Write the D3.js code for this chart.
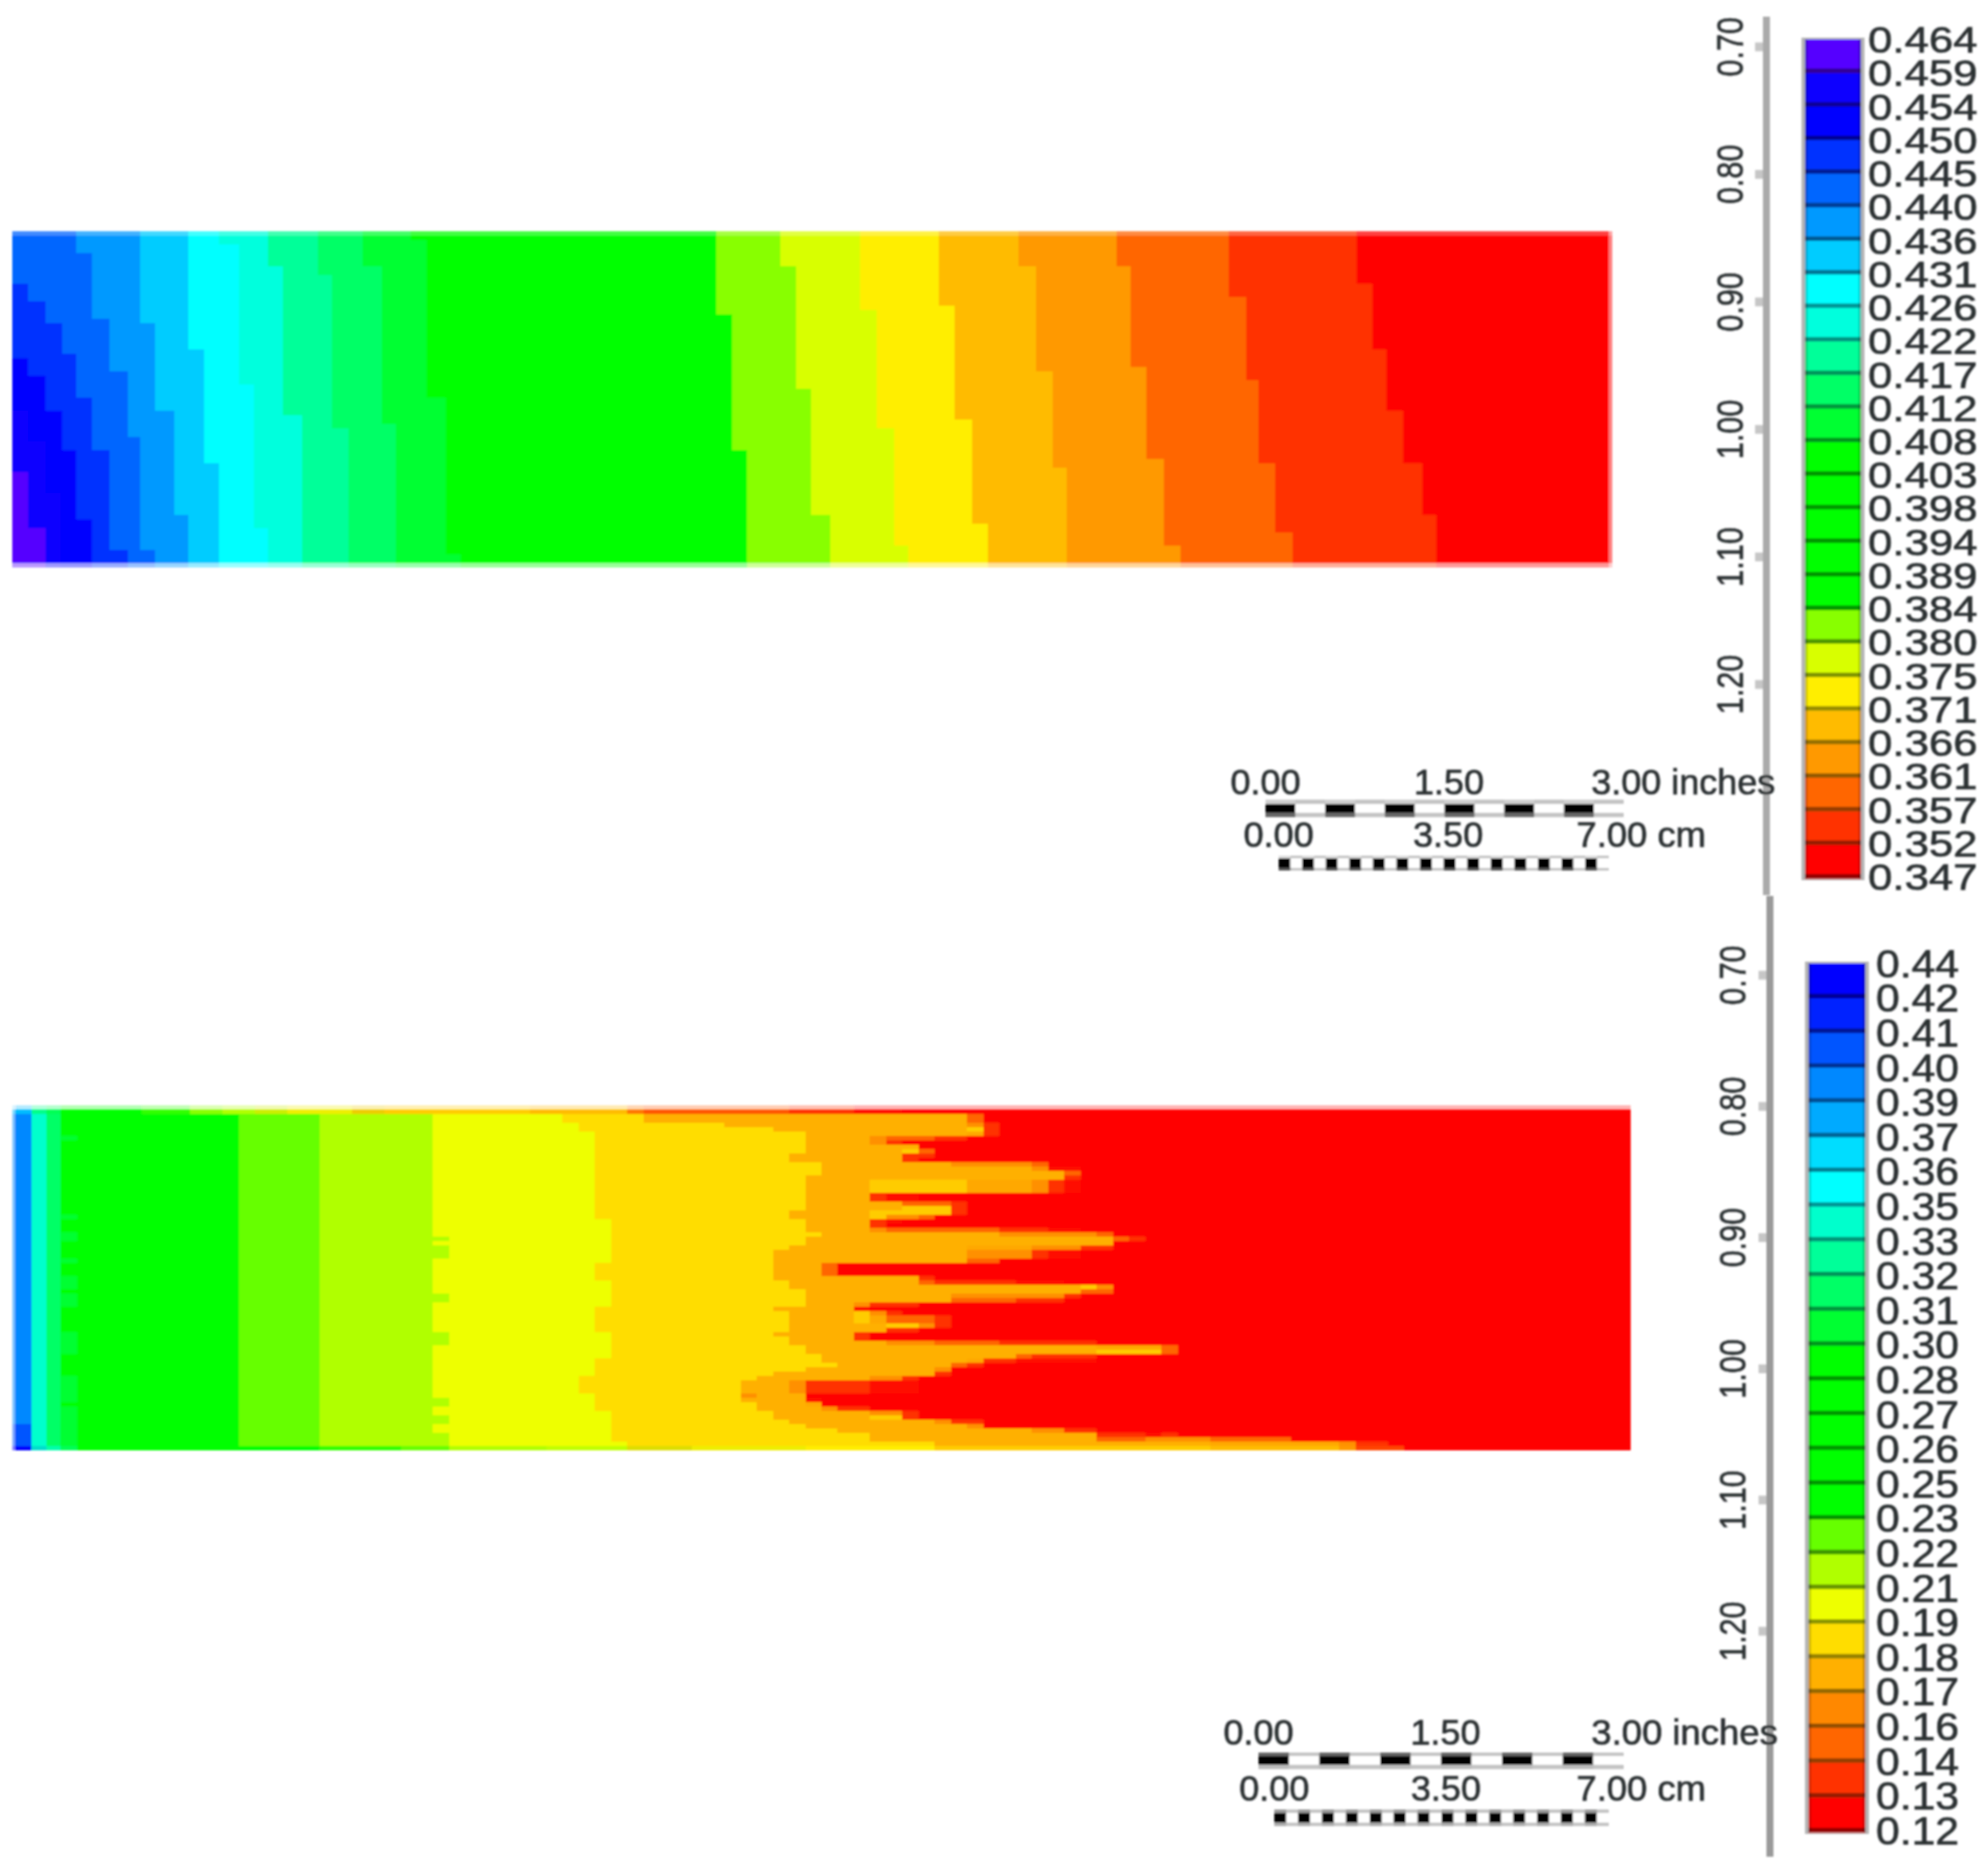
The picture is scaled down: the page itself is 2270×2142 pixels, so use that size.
<!DOCTYPE html>
<html><head><meta charset="utf-8">
<script src="https://cdn.jsdelivr.net/npm/d3@7/dist/d3.min.js"></script>
<style>html,body{margin:0;background:#fff}svg{display:block}text{font-family:"Liberation Sans",Arial,sans-serif;fill:#2c3033;stroke:#2c3033;stroke-width:0.7px}</style>
</head><body><svg id="c" width="2270" height="2142"></svg>
<script>
// ---------- legends ----------
const legendLabelsA=["0.464","0.459","0.454","0.450","0.445","0.440","0.436","0.431","0.426","0.422","0.417","0.412","0.408","0.403","0.398","0.394","0.389","0.384","0.380","0.375","0.371","0.366","0.361","0.357","0.352","0.347"];
const legendColorsA=["#5500ff","#1100ff","#0000ff","#0033ff","#0066ff","#0099ff","#00ccff","#00ffff","#00ffdd","#00ff99","#00ff66","#00ff33","#00ff00","#00ff00","#00ff00","#00ff00","#00ff00","#88ff00","#d8ff00","#ffee00","#ffbb00","#ff9900","#ff6600","#ff3300","#ff0000"];
const legendLabelsB=["0.44","0.42","0.41","0.40","0.39","0.37","0.36","0.35","0.33","0.32","0.31","0.30","0.28","0.27","0.26","0.25","0.23","0.22","0.21","0.19","0.18","0.17","0.16","0.14","0.13","0.12"];
const legendColorsB=["#0000ff","#0022ff","#0055ff","#0088ff","#00aaff","#00ddff","#00ffff","#00ffcc","#00ff99","#00ff66","#00ff33","#00ff00","#00ff00","#00ff00","#00ff00","#00ff00","#66ff00","#b0ff00","#eeff00","#ffdd00","#ffb000","#ff8800","#ff6600","#ff3300","#ff0000"];
const depthTicks=[0.7,0.8,0.9,1.0,1.1,1.2];
const inchTicks=[0,1.5,3];
const cmTicks=[0,3.5,7];

// ---------- upper field: contour edges as [first model row, % of sample length] ----------
const edgeA00=[[0,0],[55,1.0],[68,2.1]];
const edgeA01=[[0,0],[41,1.0],[48,2.1],[60,3.0]];
const edgeA02=[[0,0],[29,1.0],[33,2.1],[41,3.1],[50,4.0],[66,5.0]];
const edgeA03=[[0,0],[12,1.0],[16,2.1],[21,3.1],[28,4.0],[38,5.0],[50,6.1],[73,7.2]];
const edgeA04=[[0,4.0],[5,5.0],[20,6.1],[32,7.2],[47,8.0],[73,8.9]];
const edgeA05=[[0,8.0],[21,8.9],[41,10.1],[65,11.0]];
const edgeA06=[[0,11.0],[27,12.0],[53,12.9]];
const edgeA07=[[0,12.9],[3,14.2],[35,15.1],[68,16.0]];
const edgeA08=[[0,16.0],[8,16.9],[42,18.1]];
const edgeA09=[[0,19.1],[10,20.0],[45,21.0]];
const edgeA10=[[0,21.9],[8,23.1],[44,24.0]];
const edgeA11=[[0,24.9],[2,25.9],[38,27.1],[74,28.0]];
const edgeA12=[[0,44.0],[19,45.0],[50,45.9]];
const edgeA13=[[0,48.0],[8,49.0],[36,49.9],[65,51.1]];
const edgeA14=[[0,53.0],[18,54.0],[45,55.1],[72,56.0]];
const edgeA15=[[0,57.9],[17,58.9],[43,60.0],[67,61.0]];
const edgeA16=[[0,62.9],[8,64.0],[32,65.0],[54,65.9]];
const edgeA17=[[0,69.0],[8,69.9],[31,70.9],[52,72.0],[72,73.0]];
const edgeA18=[[0,76.0],[15,77.1],[34,77.9],[53,78.9],[69,80.0]];
const edgeA19=[[0,84.0],[12,85.0],[27,85.9],[41,86.9],[53,88.1],[65,89.0]];
const edgesA=[edgeA00,edgeA01,edgeA02,edgeA03,edgeA04,edgeA05,edgeA06,edgeA07,edgeA08,edgeA09,edgeA10,edgeA11,edgeA12,edgeA13,edgeA14,edgeA15,edgeA16,edgeA17,edgeA18,edgeA19];
const edgeLevelsA=[0,1,2,3,4,5,6,7,8,9,10,11,12,17,18,19,20,21,22,23];

// ---------- lower field: band limits in % of sample length, per model row ----------
const straightEdgesB=[1.2,2.1,3,14,19,26];
const straightLevelsB=[3,7,9,11,16,17];
const goldEdgeB=[[2,34],[4,35],[6,36],[26,37],[36,36],[40,37],[46,36],[52,37],[58,36],[62,35],[66,36],[70,37],[77,38]];
const amberStartB=[0,0,39,39,44,47,49,49,49,49,49,48,48,50,50,50,49,49,49,49,49,49,49,49,48,48,49,49,49,50,49,49,48,47,47,47,47,47,47,47,48,48,49,49,49,49,47,48,48,48,48,48,47,48,48,49,49,50,50,51,49,47,46,45,45,45,45,45,46,46,47,47,48,49,51,53,53,57];
const redStartB=[0,0,60,60,61,61,61,59,55,56,57,57,56,64,66,66,66,66,66,66,56,56,59,59,59,57,55,54,66,68,70,68,68,66,66,61,51,51,51,57,65,68,68,66,65,56,53,55,58,58,58,56,53,53,67,72,72,67,67,60,58,58,56,56,56,56,49,50,50,53,56,56,60,60,67,72,79,85];
const fringeTones=["#ffcc00","#ffa800","#ff9000","#ff6600","#ff3300","#ff1100"];
// [first row, last row, from %, to %, tone]
const fringesB=[[2,3,59,60,3],[4,4,59,60,2],[4,6,60,61,4],[5,5,59,60,0],[6,6,59,60,1],[7,7,53,54,2],[7,7,54,57,3],[7,7,57,59,4],[8,8,53,54,2],[8,8,54,55,4],[10,10,55,56,0],[10,10,56,57,3],[11,11,55,57,4],[12,12,55,56,4],[13,13,58,63,2],[13,13,63,64,3],[14,14,63,64,2],[14,14,64,66,5],[15,15,65,66,3],[16,16,65,66,4],[17,19,53,59,0],[17,19,59,63,1],[17,19,63,64,2],[17,19,64,65,4],[17,19,65,66,5],[20,21,53,54,4],[20,21,54,56,5],[22,22,55,58,3],[22,22,58,59,4],[23,23,55,58,0],[23,24,58,59,4],[24,24,53,58,0],[25,25,53,54,0],[25,25,54,56,2],[25,25,56,57,3],[26,26,53,54,4],[26,26,54,55,5],[27,27,53,54,4],[28,28,53,54,2],[28,28,54,61,3],[28,28,61,64,4],[28,28,64,66,5],[29,29,61,67,2],[29,29,67,68,3],[30,30,68,69,3],[30,30,69,70,4],[32,32,59,63,1],[32,32,63,66,2],[32,32,66,68,4],[33,34,59,63,2],[33,34,63,64,4],[33,34,64,66,5],[35,35,59,61,3],[36,38,50,51,3],[39,39,56,57,4],[40,40,56,57,3],[40,40,57,62,4],[40,40,62,65,5],[41,41,66,67,0],[41,41,67,68,2],[42,42,66,68,3],[43,43,58,65,2],[43,43,65,66,4],[44,44,58,62,3],[44,44,62,65,4],[45,45,52,53,2],[45,45,53,56,4],[46,46,52,53,5],[47,47,52,53,0],[47,47,53,54,2],[47,47,54,55,4],[48,49,52,53,0],[48,49,53,54,1],[48,49,54,57,3],[48,49,57,58,4],[50,50,54,56,0],[50,50,56,57,2],[50,50,57,58,4],[51,51,54,56,4],[52,53,52,53,4],[54,54,54,57,2],[54,54,57,61,3],[54,54,61,67,4],[55,55,67,71,1],[55,56,71,72,3],[56,56,67,71,0],[57,57,62,63,3],[57,57,63,67,4],[58,58,59,60,1],[58,58,60,62,4],[58,58,62,67,5],[59,59,58,59,3],[59,59,59,60,4],[60,60,57,58,2],[61,61,57,58,4],[62,62,53,55,2],[62,62,55,56,4],[63,65,48,49,2],[63,65,49,53,4],[63,65,53,56,5],[66,66,45,46,2],[67,67,49,50,5],[68,68,49,50,1],[69,69,50,51,2],[69,69,51,53,4],[70,70,53,55,2],[70,70,55,56,4],[71,71,53,55,0],[71,71,55,56,4],[72,72,57,58,2],[72,72,58,60,4],[73,73,59,60,2],[74,74,63,65,2],[74,74,65,67,4],[75,75,67,70,4],[75,75,70,71,5],[75,75,71,72,4],[76,76,67,70,3],[76,76,70,74,2],[76,76,74,79,3],[77,77,74,82,1],[77,77,82,83,2],[77,77,83,85,4]];
const greenBumpRowsB=[7,25,29,30,35,39,40,41,43,44,45,52,53,54,55,56,62,63,64,65,66,67,69,70,71,72,73,74,75,76,77];
const limeBumpRowsB=[30,32,33,34,43,44,52,53,54,67,68,71,72,75,76,77];
const deepBlueRowsB=[73,74,75,76,77];
const topRowStartsB=[0,1.2,2.1,3,8,11,13,15,17,21,23,32,38,39,48,52,55];
const topRowTonesB=["#00bbff","#00ff88","#00ff55","#00ff00","#33ff00","#88ff00","#b0ff00","#ccee00","#eeee00","#eecc00","#ffcc00","#ffbb00","#ff7700","#ff5500","#ff3300","#ff1100","#ff0000"];
const bottomRowStartsB=[0,1.2,2.1,3,4,19,24,27,33,38,42,49,57,74,82,83,86];
const bottomRowTonesB=["#0000ff","#00ddcc","#00ffaa","#00ff55","#00ff00","#33ff00","#66ff00","#b0ff00","#c0ff00","#dddd00","#eeee00","#ffee00","#ffcc00","#ffbb00","#ff9900","#ff4400","#ff0000"];

// ---------- layout ----------
const RA=77,RB=79;
const svg=d3.select("#c");
const defs=svg.append("defs");
defs.append("filter").attr("id","soft").attr("x","-2%").attr("y","-2%").attr("width","104%").attr("height","104%")
  .append("feGaussianBlur").attr("stdDeviation",0.9);
const root=svg.append("g").attr("filter","url(#soft)");

const xA=d3.scaleLinear([0,100],[14,1841]);
const yA=d3.scaleLinear([0,RA],[264,648.3]);
const xB=d3.scaleLinear([0,100],[14,1862]);
const yB=d3.scaleLinear([0,RB],[1262.3,1656]);

function cell(g,x,y,r0,r1,p0,p1,fill,op){
  if(p1<=p0) return;
  g.append("rect").attr("x",x(p0)).attr("y",y(r0)).attr("width",x(p1)-x(p0)).attr("height",y(r1)-y(r0))
   .attr("fill",fill).attr("opacity",op==null?1:op).attr("shape-rendering","crispEdges");
}
// upper field
const ga=root.append("g");
cell(ga,xA,yA,0,RA,0,100,legendColorsA[24]);
for(let j=edgesA.length-1;j>=0;j--){
  const e=edgesA[j],col=legendColorsA[edgeLevelsA[j]];
  e.forEach((s,i)=>cell(ga,xA,yA,s[0],i+1<e.length?e[i+1][0]:RA,0,s[1],col));
}
cell(ga,xA,yA,0,1,0,100,"#fff",0.25);
cell(ga,xA,yA,RA-1,RA,0,100,"#fff",0.6);
cell(ga,xA,yA,0,RA,99.8,100,"#fff",0.5);

// lower field
const gb=root.append("g");
function runRow(r,op,starts,tones){
  starts.forEach((s,i)=>cell(gb,xB,yB,r,r+1,s,i+1<starts.length?starts[i+1]:100,tones[i],op));
}
d3.range(2,78).forEach(r=>{
  const gold=goldEdgeB[Math.max(0,d3.bisectRight(goldEdgeB.map(d=>d[0]),r)-1)][1];
  const stops=[0,...straightEdgesB,gold,amberStartB[r],redStartB[r],100];
  const levels=[...straightLevelsB,18,19,20,24];
  levels.forEach((l,i)=>cell(gb,xB,yB,r,r+1,stops[i],stops[i+1],legendColorsB[l]));
});
greenBumpRowsB.forEach(r=>cell(gb,xB,yB,r,r+1,3,4,legendColorsB[10]));
limeBumpRowsB.forEach(r=>cell(gb,xB,yB,r,r+1,26,27,legendColorsB[17]));
deepBlueRowsB.forEach(r=>cell(gb,xB,yB,r,r+1,0,1.2,legendColorsB[2]));
fringesB.forEach(f=>cell(gb,xB,yB,f[0],f[1]+1,f[2],f[3],fringeTones[f[4]]));
runRow(1,1,topRowStartsB,topRowTonesB);
runRow(0,0.3,topRowStartsB,topRowTonesB);
runRow(78,1,bottomRowStartsB,bottomRowTonesB);
cell(gb,xB,yB,0,RB,0,0.15,"#fff",0.5);

// depth axes
function depthAxis(scale,x,lineTop,lineBot,labelX,shade){
  const g=root.append("g").attr("transform",`translate(${x},0)`);
  g.call(d3.axisLeft(scale).tickValues(depthTicks).tickFormat(d3.format(".2f")).tickSize(0));
  g.select(".domain").remove();
  g.append("rect").attr("x",-4).attr("y",lineTop).attr("width",8).attr("height",lineBot-lineTop).attr("fill",shade);
  g.selectAll(".tick").each(function(){
    const t=d3.select(this);
    t.insert("rect","text").attr("x",-13).attr("y",-5).attr("width",12).attr("height",10).attr("fill","#c6c6c6");
    t.select("text").attr("transform",`translate(${labelX-x},0) rotate(-90)`).attr("x",0).attr("y",0).attr("dy","0.35em")
      .attr("text-anchor","middle").attr("font-size",42).attr("textLength",68).attr("lengthAdjust","spacingAndGlyphs")
      .attr("fill","#2c3033");
  });
}
depthAxis(d3.scaleLinear([0.7,1.2],[53,781]),2017,19,1022,1975,"#aaaaaa");
depthAxis(d3.scaleLinear([0.7,1.2],[1113,1862]),2021,1023,2120,1978,"#9a9a9a");

// colour legends
function legend(labels,colors,x0,x1,top,bot,labelX,labelW,fs){
  const g=root.append("g");
  const y=d3.scaleLinear([0,colors.length],[top,bot]);
  g.append("rect").attr("x",x0-4).attr("y",top-2).attr("width",x1-x0+8).attr("height",bot-top+4).attr("fill","#b4b4b4");
  g.selectAll(".seg").data(colors).join("rect").attr("class","seg").attr("x",x0).attr("width",x1-x0)
    .attr("y",(d,i)=>y(i)).attr("height",(d,i)=>y(i+1)-y(i)+0.5).attr("fill",d=>d);
  g.selectAll(".div").data(colors).join("rect").attr("class","div").attr("x",x0).attr("width",x1-x0)
    .attr("y",(d,i)=>y(i+1)-5).attr("height",5).attr("fill",d=>d3.color(d).darker(1.5));
  g.append("rect").attr("x",x0).attr("y",top).attr("width",3).attr("height",bot-top).attr("fill","#000").attr("opacity",0.18);
  g.append("rect").attr("x",x1-3).attr("y",top).attr("width",3).attr("height",bot-top).attr("fill","#000").attr("opacity",0.18);
  const ly=d3.scaleLinear([0,labels.length-1],[top,bot-2]);
  g.selectAll("text").data(labels).join("text").attr("x",labelX).attr("y",(d,i)=>ly(i)).attr("dy","0.36em")
    .attr("font-size",fs).attr("textLength",labelW).attr("lengthAdjust","spacingAndGlyphs").text(d=>d);
}
legend(legendLabelsA,legendColorsA,2061,2125,45,1003,2133,125,42);
legend(legendLabelsB,legendColorsB,2065,2130,1100,2092,2142,95,44);

// scale bars
function scaleBar(ticks,unit,x0,x1,barY,barH,labelY,segs,stripTop,stripBot,shadeTop,shadeBot,lastW){
  const g=root.append("g");
  const s=d3.scaleLinear([ticks[0],ticks[2]],[x0,x1]);
  const seg=d3.scaleLinear([0,segs],[x0,x1]);
  const w=seg(1)-seg(0);
  g.append("rect").attr("x",x0).attr("y",barY).attr("width",x1-x0).attr("height",barH).attr("fill","#c4c4c4");
  g.selectAll(".t").data(d3.range(0,segs,2)).join("rect").attr("class","t").attr("x",d=>seg(d)).attr("y",barY)
    .attr("width",w).attr("height",stripTop).attr("fill",shadeTop);
  g.selectAll(".b").data(d3.range(0,segs,2)).join("rect").attr("class","b").attr("x",d=>seg(d)).attr("y",barY+barH-stripBot)
    .attr("width",w).attr("height",stripBot).attr("fill",shadeBot);
  g.selectAll(".c").data(d3.range(segs)).join("rect").attr("class","c").attr("x",d=>seg(d)).attr("y",barY+stripTop)
    .attr("width",w).attr("height",barH-stripTop-stripBot).attr("fill",d=>d%2?"#fff":"#000");
  ticks.forEach((t,i)=>{
    const txt=g.append("text").attr("y",labelY).attr("dy","0.36em").attr("font-size",40).attr("lengthAdjust","spacingAndGlyphs");
    if(i===2) txt.attr("x",s(t)-37).attr("textLength",lastW).text(d3.format(".2f")(t)+" "+unit);
    else txt.attr("x",s(t)+(i===1?5:0)).attr("text-anchor","middle").attr("textLength",80).text(d3.format(".2f")(t));
  });
}
scaleBar(inchTicks,"inches",1445,1854,913,20,893,12,5,5,"#cfcfcf","#666666",210);
scaleBar(cmTicks,"cm",1460,1837,977,17,953,28,3,3,"#dddddd","#555555",148);
scaleBar(inchTicks,"inches",1437,1854,2001,19,1978,12,4,5,"#666666","#bbbbbb",213);
scaleBar(cmTicks,"cm",1455,1837,2066,19,2042,28,4,4,"#999999","#aaaaaa",148);
</script></body></html>
